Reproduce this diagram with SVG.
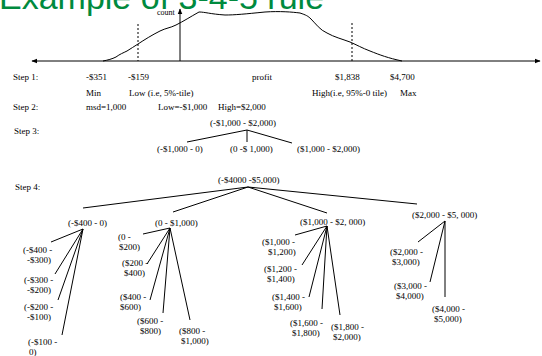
<svg xmlns="http://www.w3.org/2000/svg" width="542" height="356" viewBox="0 0 542 356">
<defs>
<marker id="ah" viewBox="0 0 10 10" refX="9" refY="5" markerWidth="6" markerHeight="6" orient="auto-start-reverse" markerUnits="userSpaceOnUse">
<path d="M0,1 L10,5 L0,9 z" fill="#000"/>
</marker>
<style>
.t{font-family:"Liberation Serif","Times New Roman",serif;font-size:9px;fill:#000}
.c{font-family:"Liberation Serif","Times New Roman",serif;font-size:8px;fill:#000}
.title{font-family:"Liberation Sans",Arial,sans-serif;font-size:34px;fill:#008a3e}
.ln{stroke:#000;stroke-width:1;fill:none}
.ds{stroke:#000;stroke-width:1;stroke-dasharray:2,2;fill:none}
</style>
</defs>
<rect width="542" height="356" fill="#fff"/>
<text class="title" x="-1" y="9">Example of 3-4-5 rule</text>

<g id="chart">
<line class="ln" x1="32" y1="61" x2="540" y2="61" marker-start="url(#ah)" marker-end="url(#ah)"/>
<line class="ln" x1="180" y1="61" x2="180" y2="9" marker-end="url(#ah)"/>
<text class="c" x="157" y="15">count</text>
<path class="ln" d="M103,61 C108,60 112,59 116,57 C120,54 123,53 127,51 C131,49 134,46 138,44 C144,40 152,35 160,31 C166,28 170,28 176,25 C184,21 190,17 199,12 C205,12 210,14 225,15 C235,15 245,14 265,12 C280,11 292,12 300,13 C306,15 308,16 311,19 C316,24 320,30 327,33 C334,37 342,39 350,42 C357,45 362,48 370,51 C380,55 388,58 402,61"/>
<line class="ds" x1="138" y1="24" x2="138" y2="61"/>
<line class="ds" x1="352" y1="23" x2="352" y2="61"/>
<text class="t" x="13" y="80">Step 1:</text>
<text class="t" x="86" y="80">-$351</text>
<text class="t" x="128" y="80">-$159</text>
<text class="t" x="252" y="80">profit</text>
<text class="t" x="335" y="80">$1,838</text>
<text class="t" x="390" y="80">$4,700</text>
<text class="t" x="86" y="96">Min</text>
<text class="t" x="129" y="96">Low (i.e, 5%-tile)</text>
<text class="t" x="312" y="96">High(i.e, 95%-0 tile)</text>
<text class="t" x="400" y="96">Max</text>
<text class="t" x="13" y="110">Step 2:</text>
<text class="t" x="86" y="110">msd=1,000</text>
<text class="t" x="158" y="110">Low=-$1,000</text>
<text class="t" x="218" y="110">High=$2,000</text>
<text class="t" x="14" y="134">Step 3:</text>
<text class="t" x="15" y="190">Step 4:</text>
</g>

<g id="connectors" class="ln">
<line x1="247" y1="130" x2="187" y2="142"/>
<line x1="247" y1="130" x2="247" y2="142"/>
<line x1="247" y1="130" x2="292" y2="143"/>
<line x1="248" y1="187" x2="83" y2="208"/>
<line x1="248" y1="187" x2="173" y2="212"/>
<line x1="248" y1="187" x2="327" y2="213"/>
<line x1="248" y1="187" x2="417" y2="204"/>
<line x1="83" y1="229" x2="51" y2="242"/>
<line x1="83" y1="229" x2="55" y2="274"/>
<line x1="83" y1="229" x2="58" y2="300"/>
<line x1="83" y1="229" x2="62" y2="335"/>
<line x1="170" y1="228" x2="143" y2="234"/>
<line x1="170" y1="228" x2="147" y2="264"/>
<line x1="170" y1="228" x2="150" y2="300"/>
<line x1="170" y1="228" x2="163" y2="313"/>
<line x1="170" y1="228" x2="190" y2="320"/>
<line x1="327" y1="226" x2="295" y2="235"/>
<line x1="327" y1="226" x2="302" y2="265"/>
<line x1="327" y1="226" x2="309" y2="297"/>
<line x1="327" y1="226" x2="322" y2="309"/>
<line x1="327" y1="226" x2="340" y2="315"/>
<line x1="445" y1="221" x2="418" y2="242"/>
<line x1="445" y1="221" x2="430" y2="282"/>
<line x1="445" y1="221" x2="445" y2="297"/>
</g>

<g id="s3-root"><text class="t" x="210" y="126">(-$1,000  - $2,000)</text></g>
<g id="s3-a"><text class="t" x="157" y="152">(-$1,000 - 0)</text></g>
<g id="s3-b"><text class="t" x="230" y="152">(0 -$ 1,000)</text></g>
<g id="s3-c"><text class="t" x="297" y="152">($1,000 - $2,000)</text></g>

<g id="s4-root"><text class="t" x="218" y="183">(-$4000 -$5,000)</text></g>

<g id="s4-a"><text class="t" x="68" y="226">(-$400 - 0)</text></g>
<g id="s4-a1"><text class="t" x="23" y="253">(-$400 -</text><text class="t" x="27" y="263">-$300)</text></g>
<g id="s4-a2"><text class="t" x="24" y="283">(-$300 -</text><text class="t" x="27" y="293">-$200)</text></g>
<g id="s4-a3"><text class="t" x="24" y="310">(-$200 -</text><text class="t" x="27" y="320">-$100)</text></g>
<g id="s4-a4"><text class="t" x="28" y="345">(-$100 -</text><text class="t" x="29" y="355">0)</text></g>

<g id="s4-b"><text class="t" x="155" y="226">(0 - $1,000)</text></g>
<g id="s4-b1"><text class="t" x="118" y="240">(0 -</text><text class="t" x="119" y="250">$200)</text></g>
<g id="s4-b2"><text class="t" x="122" y="266">($200 -</text><text class="t" x="124" y="276">$400)</text></g>
<g id="s4-b3"><text class="t" x="120" y="300">($400 -</text><text class="t" x="120" y="310">$600)</text></g>
<g id="s4-b4"><text class="t" x="137" y="324">($600 -</text><text class="t" x="140" y="334">$800)</text></g>
<g id="s4-b5"><text class="t" x="179" y="334">($800 -</text><text class="t" x="181" y="344">$1,000)</text></g>

<g id="s4-c"><text class="t" x="300" y="225">($1,000 - $2, 000)</text></g>
<g id="s4-c1"><text class="t" x="262" y="245">($1,000 -</text><text class="t" x="268" y="255">$1,200)</text></g>
<g id="s4-c2"><text class="t" x="264" y="272">($1,200 -</text><text class="t" x="267" y="282">$1,400)</text></g>
<g id="s4-c3"><text class="t" x="272" y="300">($1,400 -</text><text class="t" x="274" y="310">$1,600)</text></g>
<g id="s4-c4"><text class="t" x="290" y="326">($1,600 -</text><text class="t" x="292" y="336">$1,800)</text></g>
<g id="s4-c5"><text class="t" x="331" y="330">($1,800 -</text><text class="t" x="333" y="340">$2,000)</text></g>

<g id="s4-d"><text class="t" x="412" y="218">($2,000 - $5, 000)</text></g>
<g id="s4-d1"><text class="t" x="390" y="255">($2,000 -</text><text class="t" x="392" y="265">$3,000)</text></g>
<g id="s4-d2"><text class="t" x="394" y="289">($3,000 -</text><text class="t" x="396" y="299">$4,000)</text></g>
<g id="s4-d3"><text class="t" x="432" y="312">($4,000 -</text><text class="t" x="434" y="322">$5,000)</text></g>
</svg>
